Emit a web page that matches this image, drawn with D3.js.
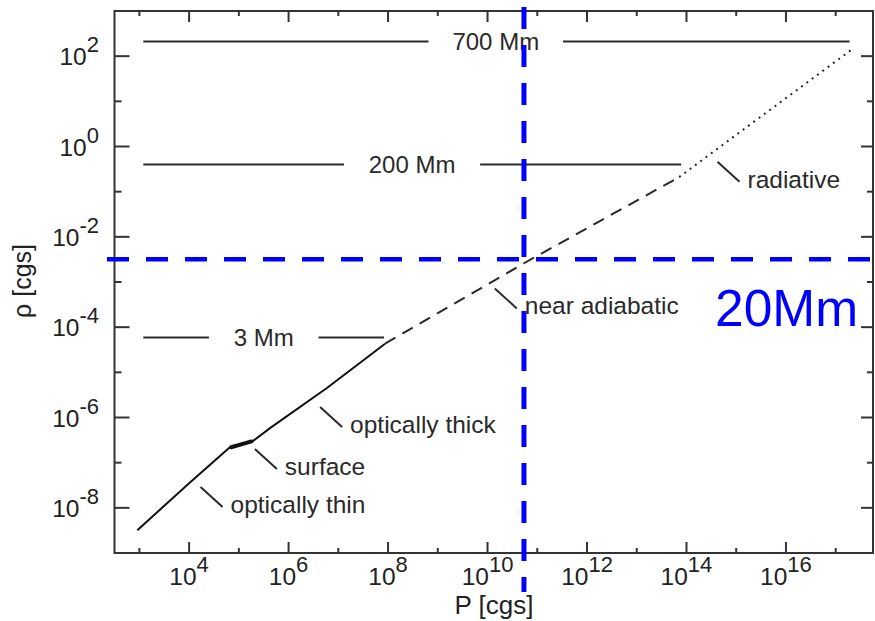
<!DOCTYPE html>
<html><head><meta charset="utf-8">
<script src="https://cdn.jsdelivr.net/npm/d3@7"></script>
<style>
body{margin:0;background:#fff}
svg{display:block;font-family:"Liberation Sans",Arial,Helvetica,sans-serif}
</style>
</head><body>
<svg id="chart" width="875" height="621"></svg>
<script>
// ---------- data ----------
const xMajorExponents = [4, 6, 8, 10, 12, 14, 16];
const xMinorExponents = [3, 5, 7, 9, 11, 13, 15, 17];
const yMajorExponents = [-8, -6, -4, -2, 0, 2];
const yMinorExponents = [-7, -5, -3, -1, 1];

// solid part of the stratification curve (optically thin -> optically thick)
const solidPressure = [9.1e2, 1.0e4, 6.6e4, 1.9e5, 4.3e5, 5.9e6, 8.7e7];
const solidDensity  = [3.2e-9, 3.5e-8, 2.2e-7, 3.0e-7, 5.9e-7, 4.5e-6, 4.3e-5];
// surface kink
const surfacePressure = [7.0e4, 1.8e5];
const surfaceDensity  = [2.2e-7, 2.95e-7];
// dashed part (near adiabatic)
const dashedPressure = [8.7e7, 5.4e10, 7.1e13];
const dashedDensity  = [4.3e-5, 2.6e-3, 0.21];
// dotted part (radiative)
const dottedPressure = [7.1e13, 4.8e15, 2.1e17];
const dottedDensity  = [0.21, 6.5, 1.4e2];

// depth reference lines
const depthLabels   = ["700 Mm", "200 Mm", "3 Mm"];
const depthDensity  = [2.1e2, 0.40, 5.9e-5];
const depthStartP   = [1.2e3, 1.2e3, 1.2e3];
const depthGapStartP= [6.5e8, 1.3e7, 2.5e4];
const depthGapEndP  = [3.3e11, 7.1e9, 4.0e6];
const depthEndP     = [1.9e17, 7.8e13, 8.3e7];

// annotations
const annotationLabels   = ["optically thin", "surface", "optically thick", "near adiabatic", "radiative"];
const annotationPressure = [1.7e4, 2.1e5, 4.3e6, 1.4e10, 4.2e14];
const annotationDensity  = [2.9e-8, 2.0e-7, 1.7e-6, 7.2e-4, 0.46];

// 20 Mm marker
const markerPressure = 5.4e10;
const markerDensity  = 3.2e-3;
const markerLabel = "20Mm";

// ---------- drawing ----------
const svg = d3.select("#chart");
const L = 114.5, R = 873, T = 11, B = 553;
const x = d3.scaleLog().domain([Math.pow(10, 2.5), Math.pow(10, 17.75)]).range([L, R]);
const y = d3.scaleLog().domain([1e-9, 1e3]).range([B, T]);

const ink = "#2a2a2a";
const line = d3.line().x(d => x(d[0])).y(d => y(d[1]));

// depth lines
depthLabels.forEach((lab, i) => {
  const yy = y(depthDensity[i]);
  svg.append("line").attr("x1", x(depthStartP[i])).attr("x2", x(depthGapStartP[i]))
    .attr("y1", yy).attr("y2", yy).attr("stroke", ink).attr("stroke-width", 2);
  svg.append("line").attr("x1", x(depthGapEndP[i])).attr("x2", x(depthEndP[i]))
    .attr("y1", yy).attr("y2", yy).attr("stroke", ink).attr("stroke-width", 2);
  svg.append("text").attr("x", (x(depthGapStartP[i]) + x(depthGapEndP[i])) / 2)
    .attr("y", yy + 8.5).attr("text-anchor", "middle").attr("font-size", 24)
    .attr("fill", ink).text(lab);
});

// curve
svg.append("path").datum(d3.zip(solidPressure, solidDensity)).attr("d", line)
  .attr("fill", "none").attr("stroke", "#111").attr("stroke-width", 2).attr("stroke-linejoin", "round");
svg.append("path").datum(d3.zip(surfacePressure, surfaceDensity)).attr("d", line)
  .attr("fill", "none").attr("stroke", "#111").attr("stroke-width", 4).attr("stroke-linecap", "round");
svg.append("path").datum(d3.zip(dashedPressure, dashedDensity)).attr("d", line)
  .attr("fill", "none").attr("stroke", ink).attr("stroke-width", 2).attr("stroke-dasharray", "12,8");
svg.append("path").datum(d3.zip(dottedPressure, dottedDensity)).attr("d", line)
  .attr("fill", "none").attr("stroke", ink).attr("stroke-width", 2).attr("stroke-dasharray", "2,4.6");

// annotations
annotationLabels.forEach((lab, i) => {
  const ax = x(annotationPressure[i]), ay = y(annotationDensity[i]);
  svg.append("line").attr("x1", ax).attr("y1", ay).attr("x2", ax + 22).attr("y2", ay + 20)
    .attr("stroke", ink).attr("stroke-width", 2);
  svg.append("text").attr("x", ax + 30).attr("y", ay + 26).attr("font-size", 24.5)
    .attr("fill", ink).text(lab);
});

// frame & ticks
svg.append("rect").attr("x", L).attr("y", T).attr("width", R - L).attr("height", B - T)
  .attr("fill", "none").attr("stroke", "#333").attr("stroke-width", 2);
const tickG = svg.append("g").attr("stroke", "#333").attr("stroke-width", 2);
function xt(exps, len) {
  exps.forEach(e => {
    const xx = x(Math.pow(10, e));
    tickG.append("line").attr("x1", xx).attr("x2", xx).attr("y1", B).attr("y2", B - len);
    tickG.append("line").attr("x1", xx).attr("x2", xx).attr("y1", T).attr("y2", T + len);
  });
}
function yt(exps, lenL, lenR) {
  exps.forEach(e => {
    const yy = y(Math.pow(10, e));
    tickG.append("line").attr("x1", L).attr("x2", L + lenL).attr("y1", yy).attr("y2", yy);
    tickG.append("line").attr("x1", R).attr("x2", R - lenR).attr("y1", yy).attr("y2", yy);
  });
}
xt(xMajorExponents, 11); xt(xMinorExponents, 5);
yt(yMajorExponents, 15, 12); yt(yMinorExponents, 7, 6);

// tick labels
xMajorExponents.forEach(e => {
  const t = svg.append("text").attr("x", x(Math.pow(10, e))).attr("y", 585)
    .attr("text-anchor", "middle").attr("font-size", 24.5).attr("fill", "#222");
  t.append("tspan").text("10");
  t.append("tspan").attr("dy", -13).attr("font-size", 22).text(e);
});
yMajorExponents.forEach(e => {
  const t = svg.append("text").attr("x", 99).attr("y", y(Math.pow(10, e)) + 9)
    .attr("text-anchor", "end").attr("font-size", 24.5).attr("fill", "#222");
  t.append("tspan").text("10");
  t.append("tspan").attr("dy", -13).attr("font-size", 22).text(e);
});

// axis titles
svg.append("text").attr("x", 494).attr("y", 614).attr("text-anchor", "middle")
  .attr("font-size", 26).attr("fill", "#222").text("P [cgs]");
svg.append("text").attr("transform", "translate(31,281) rotate(-90)").attr("text-anchor", "middle")
  .attr("font-size", 25).attr("fill", "#222").text("ρ [cgs]");

// blue marker lines
const mx = x(markerPressure), my = y(markerDensity);
svg.append("line").attr("x1", mx).attr("x2", mx).attr("y1", 7).attr("y2", 592)
  .attr("stroke", "#0000ff").attr("stroke-width", 5).attr("stroke-dasharray", "22,16");
svg.append("line").attr("x1", 107).attr("x2", 875).attr("y1", my).attr("y2", my)
  .attr("stroke", "#0000ff").attr("stroke-width", 4.5).attr("stroke-dasharray", "22,17");
svg.append("text").attr("x", 715).attr("y", 326).attr("font-size", 51.5)
  .attr("fill", "#0000ff").text(markerLabel);
</script>
</body></html>
